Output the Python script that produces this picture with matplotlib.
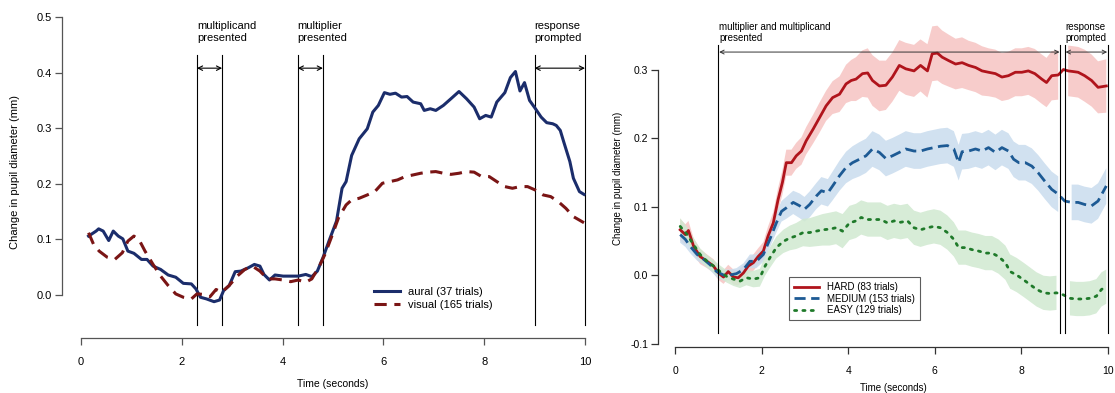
import numpy as np
import matplotlib
matplotlib.use("Agg")
import matplotlib.pyplot as plt

plt.rcParams['font.family'] = ['Liberation Sans', 'DejaVu Sans']

# ---- left panel: aural vs visual ----
aural_t = [0.15, 0.30, 0.35, 0.44, 0.55, 0.64, 0.74, 0.83, 0.93, 1.05, 1.20, 1.31, 1.43, 1.58,
           1.73, 1.88, 2.03, 2.19, 2.28, 2.37, 2.49, 2.64, 2.75, 2.83, 2.94, 3.06, 3.17, 3.32,
           3.44, 3.55, 3.63, 3.74, 3.85, 4.01, 4.16, 4.31, 4.46, 4.58, 4.69, 4.80, 4.92, 5.07,
           5.18, 5.26, 5.37, 5.52, 5.68, 5.79, 5.90, 6.02, 6.13, 6.24, 6.36, 6.47, 6.59, 6.74,
           6.81, 6.93, 7.04, 7.19, 7.34, 7.50, 7.65, 7.80, 7.91, 8.03, 8.14, 8.25, 8.41, 8.52,
           8.62, 8.71, 8.80, 8.90, 9.01, 9.13, 9.24, 9.36, 9.43, 9.51, 9.58, 9.70, 9.77, 9.89, 9.98]
aural_v = [0.106, 0.115, 0.119, 0.115, 0.098, 0.115, 0.106, 0.101, 0.079, 0.075, 0.064, 0.064,
           0.052, 0.046, 0.036, 0.032, 0.021, 0.020, 0.011, -0.004, -0.007, -0.012, -0.009,
           0.008, 0.017, 0.042, 0.043, 0.049, 0.055, 0.052, 0.037, 0.027, 0.036, 0.034, 0.034,
           0.034, 0.037, 0.033, 0.043, 0.067, 0.097, 0.133, 0.192, 0.204, 0.251, 0.281, 0.299,
           0.329, 0.341, 0.364, 0.361, 0.363, 0.356, 0.357, 0.347, 0.344, 0.332, 0.335, 0.332,
           0.341, 0.353, 0.366, 0.353, 0.338, 0.317, 0.323, 0.320, 0.347, 0.364, 0.391, 0.402,
           0.367, 0.382, 0.350, 0.336, 0.320, 0.310, 0.308, 0.305, 0.296, 0.275, 0.240, 0.210,
           0.186, 0.181]

visual_t = [0.15, 0.25, 0.36, 0.52, 0.67, 0.82, 0.93, 1.05, 1.16, 1.27, 1.43, 1.58, 1.73, 1.88,
            2.03, 2.19, 2.30, 2.45, 2.56, 2.68, 2.79, 2.94, 3.10, 3.25, 3.40, 3.55, 3.70, 3.85,
            4.01, 4.16, 4.31, 4.46, 4.58, 4.73, 4.84, 4.99, 5.11, 5.26, 5.37, 5.52, 5.68, 5.83,
            5.98, 6.13, 6.28, 6.43, 6.59, 6.74, 6.89, 7.04, 7.19, 7.34, 7.50, 7.65, 7.80, 7.95,
            8.10, 8.25, 8.41, 8.56, 8.71, 8.86, 9.01, 9.17, 9.32, 9.47, 9.62, 9.77, 9.98]
visual_v = [0.112, 0.091, 0.079, 0.068, 0.064, 0.076, 0.097, 0.106, 0.098, 0.079, 0.055, 0.034,
            0.017, 0.002, -0.004, -0.007, 0.002, 0.001, -0.003, 0.010, 0.005, 0.017, 0.034,
            0.046, 0.052, 0.043, 0.029, 0.029, 0.027, 0.024, 0.027, 0.023, 0.029, 0.052, 0.073,
            0.109, 0.139, 0.162, 0.171, 0.174, 0.180, 0.186, 0.201, 0.204, 0.207, 0.213, 0.216,
            0.219, 0.221, 0.222, 0.219, 0.217, 0.219, 0.222, 0.221, 0.213, 0.213, 0.204, 0.195,
            0.192, 0.195, 0.195, 0.189, 0.180, 0.177, 0.168, 0.156, 0.141, 0.130]

left_events = [2.3, 2.8, 4.3, 4.8, 9.0, 10.0]
left_spans = [(2.3, 2.8), (4.3, 4.8), (9.0, 10.0)]
left_event_labels = ["multiplicand\npresented", "multiplier\npresented", "response\nprompted"]

# ---- right panel: difficulty ----
hard_t = [0.12, 0.24, 0.31, 0.43, 0.58, 0.74, 0.89, 1.00, 1.12, 1.23, 1.35, 1.46, 1.58, 1.69,
          1.81, 1.92, 2.04, 2.15, 2.27, 2.38, 2.48, 2.57, 2.69, 2.80, 2.92, 3.03, 3.19, 3.34,
          3.49, 3.64, 3.80, 3.95, 4.07, 4.18, 4.33, 4.45, 4.56, 4.72, 4.87, 5.02, 5.18, 5.33,
          5.52, 5.67, 5.83, 5.94, 6.06, 6.17, 6.32, 6.48, 6.63, 6.78, 6.94, 7.09, 7.24, 7.40,
          7.55, 7.70, 7.86, 8.01, 8.16, 8.31, 8.47, 8.58, 8.70, 8.85, 8.97, 9.08, 9.20, 9.31,
          9.46, 9.62, 9.77, 9.96]
hard_v = [0.066, 0.059, 0.065, 0.042, 0.027, 0.020, 0.013, 0.003, -0.003, 0.005, -0.003, -0.004,
          0.003, 0.013, 0.018, 0.027, 0.035, 0.057, 0.076, 0.110, 0.135, 0.164, 0.164, 0.174,
          0.181, 0.196, 0.213, 0.230, 0.247, 0.259, 0.264, 0.279, 0.284, 0.286, 0.294, 0.295,
          0.284, 0.276, 0.277, 0.289, 0.306, 0.301, 0.298, 0.306, 0.298, 0.323, 0.324, 0.318,
          0.313, 0.308, 0.310, 0.306, 0.303, 0.298, 0.296, 0.294, 0.289, 0.291, 0.296, 0.296,
          0.298, 0.294, 0.286, 0.281, 0.291, 0.292, 0.300, 0.298, 0.297, 0.296, 0.291, 0.284,
          0.274, 0.276]
hard_se = [0.016, 0.015, 0.014, 0.012, 0.011, 0.010, 0.010, 0.010, 0.010, 0.010, 0.011, 0.011,
           0.011, 0.011, 0.012, 0.012, 0.013, 0.014, 0.016, 0.017, 0.018, 0.019, 0.019, 0.019,
           0.020, 0.020, 0.021, 0.022, 0.022, 0.024, 0.026, 0.028, 0.030, 0.032, 0.034, 0.036,
           0.037, 0.037, 0.036, 0.036, 0.037, 0.038, 0.038, 0.038, 0.039, 0.040, 0.040, 0.039,
           0.038, 0.037, 0.037, 0.036, 0.036, 0.036, 0.035, 0.035, 0.035, 0.035, 0.035, 0.035,
           0.035, 0.036, 0.036, 0.036, 0.036, 0.036, 0.036, 0.037, 0.037, 0.037, 0.038, 0.038,
           0.038, 0.039]

medium_t = [0.12, 0.24, 0.35, 0.51, 0.66, 0.81, 0.96, 1.12, 1.27, 1.42, 1.58, 1.73, 1.88, 2.04,
            2.19, 2.34, 2.46, 2.57, 2.73, 2.88, 2.99, 3.11, 3.26, 3.38, 3.53, 3.64, 3.80, 3.95,
            4.10, 4.26, 4.41, 4.56, 4.72, 4.87, 5.02, 5.18, 5.33, 5.52, 5.67, 5.83, 5.98, 6.13,
            6.29, 6.44, 6.55, 6.63, 6.78, 6.94, 7.09, 7.24, 7.40, 7.55, 7.70, 7.82, 7.94, 8.09,
            8.24, 8.39, 8.54, 8.70, 8.85, 9.00, 9.16, 9.31, 9.46, 9.62, 9.77, 9.96]
medium_v = [0.059, 0.052, 0.042, 0.030, 0.023, 0.015, 0.005, 0.000, 0.000, 0.002, 0.008, 0.020,
            0.020, 0.030, 0.052, 0.076, 0.093, 0.098, 0.106, 0.101, 0.096, 0.103, 0.115, 0.123,
            0.120, 0.130, 0.145, 0.157, 0.164, 0.169, 0.174, 0.184, 0.179, 0.170, 0.174, 0.179,
            0.184, 0.181, 0.181, 0.184, 0.186, 0.188, 0.189, 0.184, 0.164, 0.180, 0.181, 0.184,
            0.181, 0.186, 0.179, 0.186, 0.181, 0.169, 0.164, 0.164, 0.159, 0.149, 0.137, 0.125,
            0.118, 0.108, 0.106, 0.106, 0.103, 0.101, 0.108, 0.130]
medium_se = [0.012, 0.011, 0.010, 0.009, 0.008, 0.008, 0.008, 0.008, 0.008, 0.008, 0.009, 0.010,
             0.010, 0.011, 0.012, 0.014, 0.015, 0.016, 0.017, 0.018, 0.018, 0.019, 0.019, 0.020,
             0.020, 0.021, 0.022, 0.023, 0.024, 0.025, 0.025, 0.026, 0.026, 0.026, 0.026, 0.026,
             0.026, 0.026, 0.026, 0.026, 0.026, 0.026, 0.026, 0.026, 0.026, 0.026, 0.026, 0.026,
             0.026, 0.026, 0.026, 0.026, 0.026, 0.026, 0.026, 0.026, 0.026, 0.026, 0.026, 0.026,
             0.026, 0.026, 0.026, 0.026, 0.026, 0.026, 0.026, 0.026]

easy_t = [0.12, 0.28, 0.43, 0.58, 0.74, 0.89, 1.04, 1.19, 1.35, 1.50, 1.65, 1.81, 1.96, 2.08,
          2.19, 2.34, 2.50, 2.65, 2.80, 2.96, 3.11, 3.26, 3.41, 3.57, 3.72, 3.87, 4.03, 4.18,
          4.30, 4.45, 4.60, 4.75, 4.91, 5.06, 5.21, 5.37, 5.52, 5.67, 5.83, 5.98, 6.13, 6.29,
          6.44, 6.55, 6.71, 6.86, 7.01, 7.17, 7.32, 7.47, 7.63, 7.74, 7.89, 8.05, 8.20, 8.35,
          8.51, 8.66, 8.81, 8.97, 9.12, 9.27, 9.43, 9.58, 9.73, 9.85, 9.96]
easy_v = [0.071, 0.059, 0.044, 0.030, 0.020, 0.013, 0.005, -0.002, -0.006, -0.009, -0.004,
          -0.006, -0.004, 0.013, 0.025, 0.040, 0.049, 0.054, 0.057, 0.062, 0.062, 0.064, 0.066,
          0.067, 0.069, 0.064, 0.076, 0.079, 0.084, 0.081, 0.081, 0.081, 0.076, 0.079, 0.077,
          0.079, 0.069, 0.066, 0.069, 0.071, 0.069, 0.062, 0.052, 0.040, 0.040, 0.037, 0.035,
          0.032, 0.032, 0.027, 0.018, 0.005, 0.000, -0.007, -0.014, -0.021, -0.026, -0.027,
          -0.026, -0.029, -0.034, -0.035, -0.035, -0.034, -0.031, -0.021, -0.017]
easy_se = [0.012, 0.011, 0.010, 0.009, 0.009, 0.009, 0.009, 0.009, 0.010, 0.010, 0.011, 0.012,
           0.013, 0.014, 0.015, 0.016, 0.017, 0.018, 0.019, 0.020, 0.021, 0.022, 0.023, 0.024,
           0.024, 0.025, 0.025, 0.025, 0.025, 0.025, 0.025, 0.025, 0.025, 0.025, 0.025, 0.025,
           0.025, 0.025, 0.025, 0.025, 0.025, 0.025, 0.025, 0.025, 0.025, 0.025, 0.025, 0.025,
           0.025, 0.025, 0.025, 0.025, 0.025, 0.025, 0.025, 0.025, 0.025, 0.025, 0.025, 0.025,
           0.025, 0.025, 0.025, 0.025, 0.025, 0.025, 0.025]

right_events = [1.0, 8.9, 9.0, 10.0]
right_spans = [(1.0, 8.9), (9.0, 10.0)]
right_event_labels = ["multiplier and multiplicand\npresented", "response\nprompted"]

W, H = 1115, 393


def px_axes(fig, x0, x1, y_top, y_bot):
    return fig.add_axes([x0 / W, 1 - y_bot / H, (x1 - x0) / W, (y_bot - y_top) / H])


def r_style(ax, ybounds, yticks, color):
    for s in ['top', 'right']:
        ax.spines[s].set_visible(False)
    ax.spines['left'].set_bounds(*ybounds)
    ax.spines['bottom'].set_bounds(0, 10)
    for s in ['left', 'bottom']:
        ax.spines[s].set_color(color)
        ax.spines[s].set_linewidth(0.9)
    ax.set_yticks(yticks)
    ax.set_yticklabels([f"{v:.1f}" for v in yticks])
    ax.set_xticks([0, 2, 4, 6, 8, 10])
    ax.tick_params(length=5, width=0.9, color=color, labelsize=8, pad=2)


fig = plt.figure(figsize=(W / 100, H / 100), dpi=100)

# left
ax1 = px_axes(fig, 62, 600, 5, 338)
ax1.set_xlim(-0.377, 10.298)
ax1.set_ylim(-0.0773, 0.5216)
r_style(ax1, (0, 0.5), [0.0, 0.1, 0.2, 0.3, 0.4, 0.5], '#555555')
ax1.tick_params(axis='x', pad=9)

for x in left_events:
    ax1.plot([x, x], [-0.054, 0.432], color='black', lw=0.8)
for (a, b), lab in zip(left_spans, left_event_labels):
    ax1.annotate('', xy=(a, 0.408), xytext=(b, 0.408),
                 arrowprops=dict(arrowstyle='<->', lw=0.8, color='black',
                                 shrinkA=0, shrinkB=0, mutation_scale=8))
    ax1.text(a, 0.493, lab, fontsize=8, ha='left', va='top', linespacing=1.2)

ax1.plot(aural_t, aural_v, color='#1b2d6b', lw=2.2, label='aural (37 trials)')
ax1.plot(visual_t, visual_v, color='#7a1515', lw=2.2, dashes=(4, 2.5), label='visual (165 trials)')
ax1.legend(loc='lower left', bbox_to_anchor=(366 / W, 1 - 318 / H), bbox_transform=fig.transFigure,
           frameon=False, fontsize=8, handlelength=2.4, handletextpad=0.7, labelspacing=0.3,
           borderpad=0.2)

# right
ax2 = px_axes(fig, 658, 1113, 5, 347)
ax2.set_xlim(-0.3926, 10.115)
ax2.set_ylim(-0.1051, 0.3942)
r_style(ax2, (-0.1, 0.3), [-0.1, 0.0, 0.1, 0.2, 0.3], '#333333')
ax2.tick_params(axis='x', pad=9)
ax2.tick_params(labelsize=7.5)

series = [
    (hard_t, hard_v, hard_se, '#b0141c', '#f6c4c2', dict(), 'HARD (83 trials)'),
    (medium_t, medium_v, medium_se, '#1d5a94', '#c9dcee', dict(dashes=(4, 2)), 'MEDIUM (153 trials)'),
    (easy_t, easy_v, easy_se, '#1f7a2a', '#d0e9d0', dict(dashes=(0.8, 2.2), dash_capstyle='round'), 'EASY (129 trials)'),
]
for t, v, se, c, fc, st, lab in series:
    t = np.array(t)
    v = np.array(v)
    se = np.array(se)
    keep = (t <= 8.88) | (t >= 9.02)
    ax2.fill_between(t, v - se, v + se, where=keep, color=fc, lw=0, alpha=0.85)
for t, v, se, c, fc, st, lab in series:
    ax2.plot(t, v, color=c, lw=2.0, label=lab, **st)

for x in right_events:
    ax2.plot([x, x], [-0.085, 0.336], color='black', lw=0.8)
for (a, b), lab in zip(right_spans, right_event_labels):
    ax2.annotate('', xy=(a + 0.02, 0.3255), xytext=(b - 0.02, 0.3255),
                 arrowprops=dict(arrowstyle='<->', lw=0.7, color='#333333',
                                 shrinkA=0, shrinkB=0, mutation_scale=7))
    ax2.text(a + 0.02, 0.370, lab, fontsize=7, ha='left', va='top', linespacing=1.15)

leg = ax2.legend(loc='lower left', bbox_to_anchor=(789 / W, 1 - 320 / H), bbox_transform=fig.transFigure,
                 frameon=True, fancybox=False, fontsize=7, handlelength=2.6, handletextpad=0.8,
                 labelspacing=0.15, borderpad=0.5, borderaxespad=0)
leg.get_frame().set_edgecolor('#333333')
leg.get_frame().set_linewidth(0.8)

fig.text(15 / W, 1 - 172 / H, 'Change in pupil diameter (mm)', rotation=90, ha='center', va='center', fontsize=8)
fig.text(618 / W, 1 - 178 / H, 'Change in pupil diameter (mm)', rotation=90, ha='center', va='center', fontsize=7)
fig.text(333 / W, 1 - 384 / H, 'Time (seconds)', ha='center', va='center', fontsize=7.5)
fig.text(893 / W, 1 - 388 / H, 'Time (seconds)', ha='center', va='center', fontsize=7)

fig.savefig('out.png', dpi=100)
